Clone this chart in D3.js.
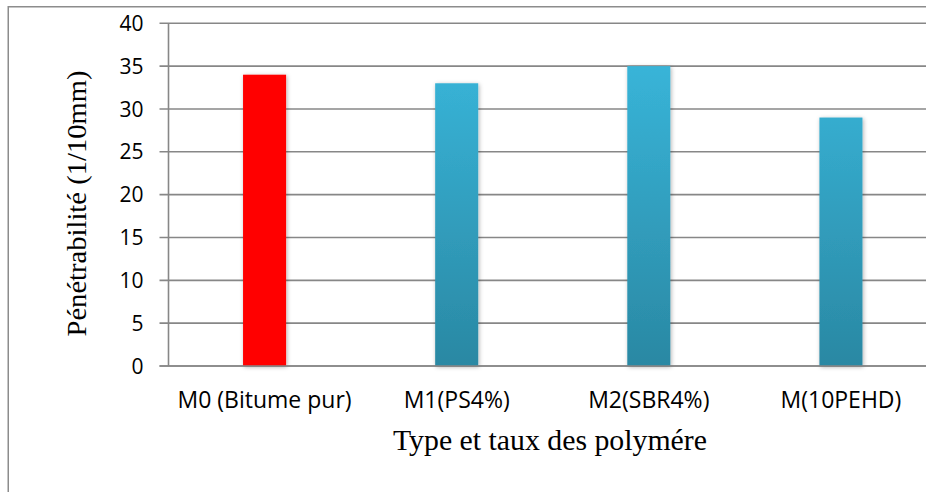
<!DOCTYPE html>
<html>
<head>
<meta charset="utf-8">
<script src="https://cdn.jsdelivr.net/npm/d3@7"></script>
<style>
  html, body { margin: 0; padding: 0; background: #fff; overflow: hidden; }
  svg { display: block; overflow: hidden; }
</style>
</head>
<body>
<svg id="chart" width="926" height="492"></svg>
<script>
// Penetrability of the binders, in 1/10 mm
const categories = ["M0 (Bitume pur)", "M1(PS4%)", "M2(SBR4%)", "M(10PEHD)"];
const values = [34, 33, 35, 29];
const yTicks = [0, 5, 10, 15, 20, 25, 30, 35, 40];
const yTitle = "Pénétrabilité  (1/10mm)";
const xTitle = "Type et taux des polymére";

const W = 926, H = 492;
const svg = d3.select("#chart");
const defs = svg.append("defs");

// soft shadow under each bar
const shadow = defs.append("filter").attr("id", "barShadow")
  .attr("x", "-40%").attr("y", "-10%").attr("width", "180%").attr("height", "120%");
shadow.append("feDropShadow")
  .attr("dx", 1).attr("dy", 1).attr("stdDeviation", 2.2)
  .attr("flood-color", "#000").attr("flood-opacity", 0.3);

// blue bars fade from light cyan at the top to a deeper teal at the base
const grad = defs.append("linearGradient").attr("id", "blueGrad")
  .attr("gradientUnits", "userSpaceOnUse")
  .attr("x1", 0).attr("x2", 0);
grad.append("stop").attr("offset", "0%").attr("stop-color", "#38b4d8");
grad.append("stop").attr("offset", "100%").attr("stop-color", "#2a88a3");

const plotLeft = 168.5, plotRight = 937;
const y = d3.scaleLinear().domain([0, 40]).range([366, 23.3]);
const x = d3.scaleBand().domain(categories)
  .range([plotLeft, plotRight])
  .paddingInner(0.776).paddingOuter(0.388);

grad.attr("y1", y(35)).attr("y2", y(0));

const sans = "'Open Sans', Lato, sans-serif";
const serif = "'Liberation Serif', 'Times New Roman', serif";
const gridColor = "#878787";

// outer frame: only the top and left edges fall inside the view
svg.append("path")
  .attr("d", `M8.25,${H}V6.75H${W}`)
  .attr("fill", "none").attr("stroke", "#8c8c8c").attr("stroke-width", 1.5);

// horizontal gridlines, each with a short tick left of the axis
svg.append("g").selectAll("line")
  .data(yTicks)
  .join("line")
  .attr("x1", plotLeft - 9).attr("x2", W)
  .attr("y1", d => y(d)).attr("y2", d => y(d))
  .attr("stroke", gridColor).attr("stroke-width", 1.6);

// tick labels
svg.append("g").selectAll("text")
  .data(yTicks)
  .join("text")
  .attr("x", plotLeft - 25)
  .attr("y", d => y(d))
  .attr("dy", "0.36em")
  .attr("text-anchor", "end")
  .attr("font-family", sans)
  .attr("font-size", 21)
  .attr("fill", "#000")
  .text(d => d);

// vertical axis line
svg.append("line")
  .attr("x1", plotLeft).attr("x2", plotLeft)
  .attr("y1", y(40)).attr("y2", y(0))
  .attr("stroke", gridColor).attr("stroke-width", 1.6);

// bars
svg.append("g").selectAll("rect")
  .data(categories)
  .join("rect")
  .attr("x", d => x(d))
  .attr("width", x.bandwidth())
  .attr("y", (d, i) => y(values[i]))
  .attr("height", (d, i) => y(0) - y(values[i]))
  .attr("fill", (d, i) => i === 0 ? "#ff0000" : "url(#blueGrad)")
  .attr("filter", "url(#barShadow)");

// baseline redrawn over the bar shadows
svg.append("line")
  .attr("x1", plotLeft - 9).attr("x2", W)
  .attr("y1", y(0)).attr("y2", y(0))
  .attr("stroke", gridColor).attr("stroke-width", 1.6);

// category labels
svg.append("g").selectAll("text")
  .data(categories)
  .join("text")
  .attr("x", d => x(d) + x.bandwidth() / 2)
  .attr("y", 408)
  .attr("text-anchor", "middle")
  .attr("font-family", sans)
  .attr("font-size", 23)
  .attr("fill", "#000")
  .text(d => d);

// axis titles
svg.append("text")
  .attr("x", 550).attr("y", 450)
  .attr("text-anchor", "middle")
  .attr("font-family", serif)
  .attr("font-size", 29)
  .attr("textLength", 314)
  .attr("lengthAdjust", "spacingAndGlyphs")
  .attr("fill", "#000")
  .text(xTitle);

svg.append("text")
  .attr("transform", "translate(86,203.5) rotate(-90)")
  .attr("text-anchor", "middle")
  .attr("font-family", serif)
  .attr("font-size", 28)
  .attr("textLength", 266)
  .attr("lengthAdjust", "spacingAndGlyphs")
  .attr("fill", "#000")
  .text(yTitle);
</script>
</body>
</html>
